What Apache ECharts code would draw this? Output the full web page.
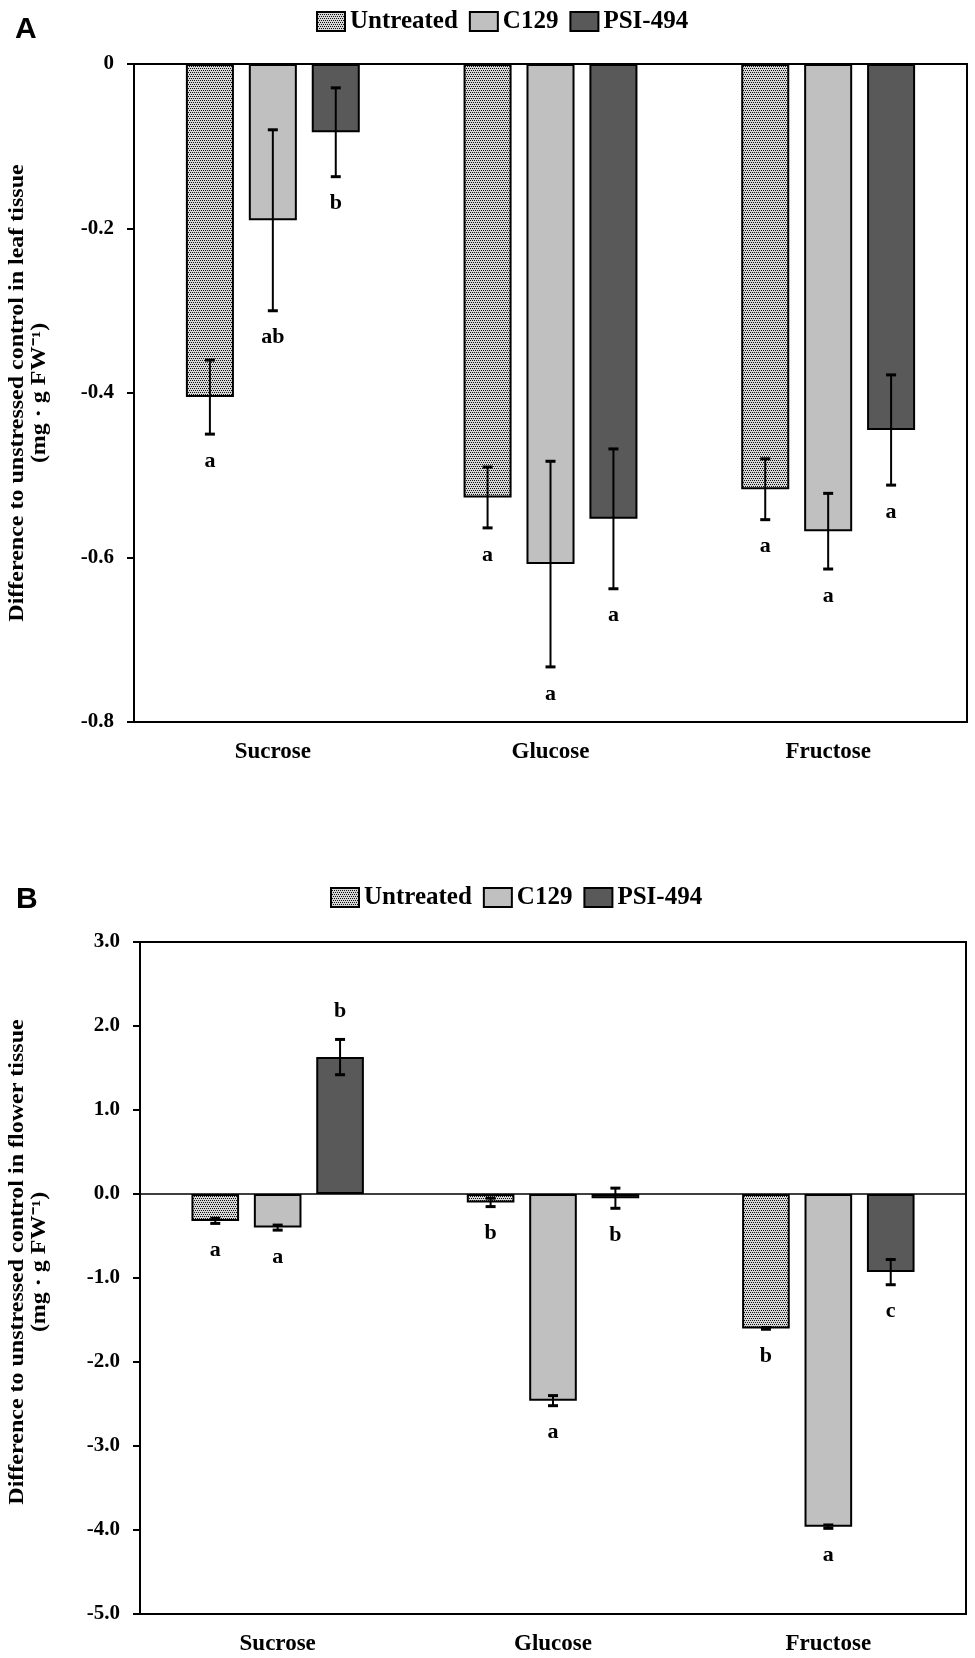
<!DOCTYPE html>
<html>
<head>
<meta charset="utf-8">
<script src="https://cdn.jsdelivr.net/npm/echarts@6/dist/echarts.min.js"></script>
<style>
  html, body { margin: 0; padding: 0; background: #fff; }
  #main { width: 975px; height: 1658px; }
</style>
</head>
<body>
<div id="main"></div>
<script>
// categories and series
const categories = ['Sucrose', 'Glucose', 'Fructose'];
const seriesNames = ['Untreated', 'C129', 'PSI-494'];

// panel A - leaf tissue (mg g FW-1)
const leafUntreated = [-0.405, -0.527, -0.517];
const leafC129 = [-0.19, -0.608, -0.568];
const leafPSI = [-0.083, -0.553, -0.445];
const leafUntreatedErr = [0.045, 0.037, 0.037];
const leafC129Err = [0.11, 0.125, 0.046];
const leafPSIErr = [0.054, 0.085, 0.067];
const leafUntreatedLetters = ['a', 'a', 'a'];
const leafC129Letters = ['ab', 'a', 'a'];
const leafPSILetters = ['b', 'a', 'a'];

// panel B - flower tissue
const flowerUntreated = [-0.32, -0.1, -1.6];
const flowerC129 = [-0.4, -2.46, -3.96];
const flowerPSI = [1.63, -0.05, -0.93];
const flowerUntreatedErr = [0.03, 0.05, 0.01];
const flowerC129Err = [0.03, 0.06, 0.02];
const flowerPSIErr = [0.21, 0.12, 0.15];
const flowerUntreatedLetters = ['a', 'b', 'b'];
const flowerC129Letters = ['a', 'a', 'a'];
const flowerPSILetters = ['b', 'b', 'c'];

// y axis titles
const leafYName = ['Difference to unstressed control in leaf tissue', '(mg · g FW⁻¹)'];
const flowerYName = ['Difference to unstressed control in flower tissue', '(mg · g FW⁻¹)'];

const SERIF = '"Liberation Serif", "Times New Roman", serif';
const SANS = '"Liberation Sans", Arial, sans-serif';
const BAR_W = 0.173; // fraction of category band
const BAR_GAP = 0.31; // fraction of bar width

// dotted fill for the untreated bars
function dotPattern() {
  const c = document.createElement('canvas');
  c.width = 4; c.height = 4;
  const ctx = c.getContext('2d');
  ctx.fillStyle = '#d6d6d6';
  ctx.fillRect(0, 0, 4, 4);
  ctx.fillStyle = '#111';
  [[0, 0], [2, 0], [1, 2], [3, 2]].forEach(function (p) { ctx.fillRect(p[0], p[1], 1, 1); });
  return c;
}
const fills = [{ image: dotPattern(), repeat: 'repeat' }, '#c0c0c0', '#595959'];

function barSeries(i, name, data, gridIdx, extra) {
  const s = {
    name: name,
    type: 'bar',
    xAxisIndex: gridIdx,
    yAxisIndex: gridIdx,
    data: data,
    barWidth: (BAR_W * 100) + '%',
    barGap: (BAR_GAP * 100) + '%',
    itemStyle: { color: fills[i], borderColor: '#000', borderWidth: 2 },
    silent: true
  };
  return Object.assign(s, extra || {});
}

// error bars + significance letters
function errSeries(barIdx, vals, errs, letters, gridIdx) {
  return {
    type: 'custom',
    xAxisIndex: gridIdx,
    yAxisIndex: gridIdx,
    z: 5,
    silent: true,
    data: vals.map(function (v, k) { return [k, v, errs[k]]; }),
    renderItem: function (params, api) {
      const ci = api.value(0), v = api.value(1), e = api.value(2);
      const band = api.size([1, 0])[0];
      const bw = band * BAR_W;
      const x = api.coord([ci, 0])[0] + (barIdx - 1) * (bw * (1 + BAR_GAP));
      const yHi = api.coord([ci, v + e])[1];
      const yLo = api.coord([ci, v - e])[1];
      const ly = v >= 0 ? yHi - 28 : yLo + 27;
      return {
        type: 'group',
        children: [
          { type: 'line', shape: { x1: x, y1: yHi, x2: x, y2: yLo }, style: { stroke: '#000', lineWidth: 2 } },
          { type: 'line', shape: { x1: x - 5, y1: yHi, x2: x + 5, y2: yHi }, style: { stroke: '#000', lineWidth: 3 } },
          { type: 'line', shape: { x1: x - 5, y1: yLo, x2: x + 5, y2: yLo }, style: { stroke: '#000', lineWidth: 3 } },
          {
            type: 'text',
            style: {
              x: x, y: ly, text: letters[params.dataIndex],
              fill: '#000', fontSize: 22, fontWeight: 'bold', fontFamily: SERIF,
              align: 'center', verticalAlign: 'middle'
            }
          }
        ]
      };
    }
  };
}

function yAxisDef(gridIdx, min, max, interval, fmt) {
  return {
    gridIndex: gridIdx,
    type: 'value',
    min: min, max: max, interval: interval,
    axisLine: { show: true, lineStyle: { color: '#000', width: 2 } },
    axisTick: { show: true, length: 7, lineStyle: { color: '#000', width: 2 } },
    axisLabel: { margin: 20, fontFamily: SERIF, fontWeight: 'bold', fontSize: 21, color: '#000', formatter: fmt },
    splitLine: { show: false }
  };
}

function xAxisDef(gridIdx) {
  return {
    gridIndex: gridIdx,
    type: 'category',
    data: categories,
    axisLine: { show: false },
    axisTick: { show: false },
    axisLabel: { margin: 19, fontFamily: SERIF, fontWeight: 'bold', fontSize: 23, color: '#000' }
  };
}

// rotated, slightly stretched axis title (two lines)
function yTitle(lines, xs, cy) {
  return lines.map(function (t, k) {
    return {
      type: 'text',
      x: xs[k], y: cy,
      rotation: Math.PI / 2,
      scaleX: 1.2,
      silent: true,
      style: {
        text: t, fill: '#000', fontSize: 20, fontWeight: 'bold', fontFamily: SERIF,
        align: 'center', verticalAlign: 'middle'
      }
    };
  });
}

const legendStyle = {
  data: seriesNames,
  orient: 'horizontal',
  icon: 'rect',
  itemWidth: 28,
  itemHeight: 19,
  itemGap: 11,
  selectedMode: false,
  textStyle: { fontFamily: SERIF, fontWeight: 'bold', fontSize: 25, color: '#000' }
};

const chart = echarts.init(document.getElementById('main'), null, { renderer: 'canvas' });

const option = {
  backgroundColor: '#fff',
  animation: false,
  title: [
    { text: 'A', left: 10, top: 10, textStyle: { fontFamily: SANS, fontWeight: 'bold', fontSize: 30, color: '#000' } },
    { text: 'B', left: 11, top: 880, textStyle: { fontFamily: SANS, fontWeight: 'bold', fontSize: 30, color: '#000' } }
  ],
  legend: [
    Object.assign({ left: 311, top: 4 }, legendStyle),
    Object.assign({ left: 325, top: 880 }, legendStyle)
  ],
  grid: [
    { left: 134, top: 64, width: 833, height: 658, show: true, borderColor: '#000', borderWidth: 2, backgroundColor: 'transparent' },
    { left: 140, top: 942, width: 826, height: 672, show: true, borderColor: '#000', borderWidth: 2, backgroundColor: 'transparent' }
  ],
  graphic: yTitle(leafYName, [18, 40], 393).concat(yTitle(flowerYName, [18, 40], 1262)),
  xAxis: [xAxisDef(0), xAxisDef(1)],
  yAxis: [
    yAxisDef(0, -0.8, 0, 0.2, function (v) { return Math.abs(v) < 1e-9 ? '0' : v.toFixed(1); }),
    yAxisDef(1, -5, 3, 1, function (v) { return (Math.abs(v) < 1e-9 ? 0 : v).toFixed(1); })
  ],
  series: [
    barSeries(0, seriesNames[0], leafUntreated, 0),
    barSeries(1, seriesNames[1], leafC129, 0),
    barSeries(2, seriesNames[2], leafPSI, 0),
    errSeries(0, leafUntreated, leafUntreatedErr, leafUntreatedLetters, 0),
    errSeries(1, leafC129, leafC129Err, leafC129Letters, 0),
    errSeries(2, leafPSI, leafPSIErr, leafPSILetters, 0),

    barSeries(0, seriesNames[0], flowerUntreated, 1),
    barSeries(1, seriesNames[1], flowerC129, 1),
    barSeries(2, seriesNames[2], flowerPSI, 1, {
      markLine: {
        silent: true,
        symbol: 'none',
        label: { show: false },
        lineStyle: { color: '#000', width: 1.5, type: 'solid' },
        data: [{ yAxis: 0 }]
      }
    }),
    errSeries(0, flowerUntreated, flowerUntreatedErr, flowerUntreatedLetters, 1),
    errSeries(1, flowerC129, flowerC129Err, flowerC129Letters, 1),
    errSeries(2, flowerPSI, flowerPSIErr, flowerPSILetters, 1)
  ]
};

chart.setOption(option);
</script>
</body>
</html>
